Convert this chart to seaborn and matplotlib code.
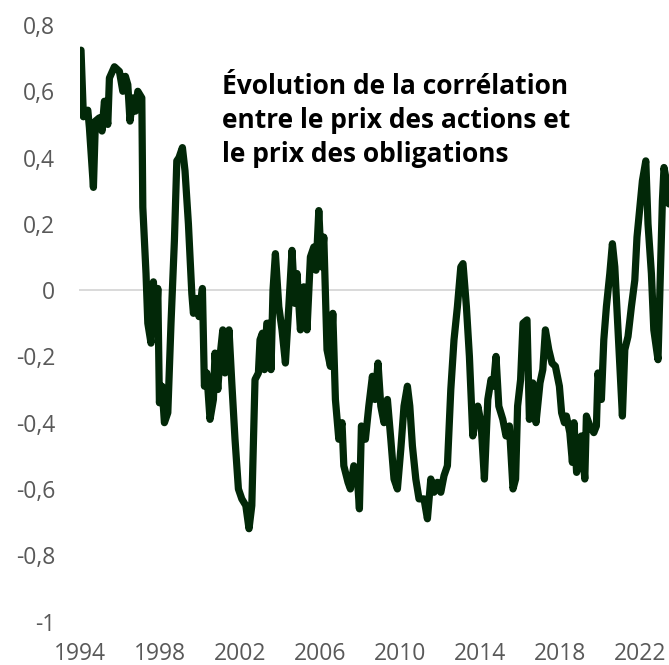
import matplotlib
matplotlib.use("Agg")
import matplotlib.pyplot as plt
from matplotlib.ticker import FuncFormatter
import seaborn as sns

# valeurs (annee decimale, correlation)
annees = [
    1994.05, 1994.17, 1994.39, 1994.47, 1994.67, 1994.77, 1994.97, 1995.10,
    1995.22, 1995.39, 1995.47, 1995.72, 1995.97, 1996.14, 1996.27, 1996.39,
    1996.50, 1996.64, 1996.77, 1996.89, 1997.09, 1997.14, 1997.30, 1997.39,
    1997.55, 1997.67, 1997.80, 1997.89, 1997.97, 1998.10, 1998.22, 1998.39,
    1998.55, 1998.72, 1998.84, 1998.95, 1999.12, 1999.25, 1999.42, 1999.59,
    1999.67, 1999.84, 1999.95, 2000.12, 2000.22, 2000.34, 2000.50, 2000.67,
    2000.75, 2000.89, 2001.00, 2001.14, 2001.25, 2001.34, 2001.45, 2001.59,
    2001.75, 2001.92, 2002.09, 2002.29, 2002.45, 2002.59, 2002.75, 2002.92,
    2003.00, 2003.12, 2003.22, 2003.34, 2003.45, 2003.55, 2003.65, 2003.77,
    2003.94, 2004.10, 2004.27, 2004.44, 2004.60, 2004.74, 2004.85, 2005.02,
    2005.19, 2005.35, 2005.52, 2005.69, 2005.80, 2005.94, 2006.07, 2006.19,
    2006.35, 2006.52, 2006.64, 2006.77, 2006.94, 2007.10, 2007.19, 2007.40,
    2007.52, 2007.69, 2007.85, 2007.97, 2008.07, 2008.27, 2008.44, 2008.62,
    2008.75, 2008.90, 2009.04, 2009.20, 2009.37, 2009.54, 2009.70, 2009.87,
    2010.04, 2010.20, 2010.37, 2010.49, 2010.62, 2010.79, 2010.95, 2011.20,
    2011.37, 2011.54, 2011.70, 2011.87, 2012.04, 2012.20, 2012.37, 2012.54,
    2012.70, 2012.87, 2013.04, 2013.15, 2013.32, 2013.47, 2013.64, 2013.89,
    2014.05, 2014.22, 2014.39, 2014.55, 2014.67, 2014.80, 2014.94, 2015.14,
    2015.30, 2015.47, 2015.65, 2015.78, 2015.88, 2016.03, 2016.15, 2016.35,
    2016.47, 2016.64, 2016.80, 2017.00, 2017.14, 2017.27, 2017.44, 2017.60,
    2017.77, 2017.97, 2018.08, 2018.22, 2018.32, 2018.49, 2018.62, 2018.70,
    2018.83, 2018.99, 2019.07, 2019.24, 2019.32, 2019.49, 2019.69, 2019.82,
    2019.90, 2020.07, 2020.19, 2020.32, 2020.49, 2020.62, 2020.74, 2020.90,
    2021.12, 2021.24, 2021.40, 2021.57, 2021.74, 2021.85, 2021.99, 2022.12,
    2022.29, 2022.40, 2022.57, 2022.69, 2022.90, 2023.02, 2023.12, 2023.20,
    2023.32, 2023.45,
]
correlation = [
    0.724, 0.523, 0.543, 0.49, 0.31, 0.51, 0.52, 0.48,
    0.57, 0.50, 0.64, 0.674, 0.66, 0.60, 0.645, 0.62,
    0.51, 0.58, 0.54, 0.60, 0.58, 0.25, 0.05, -0.10,
    -0.16, 0.025, -0.12, 0.005, -0.34, -0.29, -0.40, -0.37,
    -0.10, 0.15, 0.39, 0.40, 0.43, 0.36, 0.20, -0.01,
    -0.07, -0.025, -0.08, 0.005, -0.29, -0.25, -0.39, -0.33,
    -0.19, -0.30, -0.20, -0.12, -0.25, -0.21, -0.12, -0.28,
    -0.45, -0.60, -0.63, -0.65, -0.72, -0.65, -0.27, -0.25,
    -0.15, -0.13, -0.24, -0.10, -0.10, -0.24, 0.00, 0.11,
    -0.05, -0.12, -0.22, -0.05, 0.12, -0.04, 0.05, -0.12,
    0.01, -0.12, 0.10, 0.13, 0.06, 0.24, 0.07, 0.16,
    -0.18, -0.23, -0.07, -0.33, -0.45, -0.40, -0.53, -0.58,
    -0.60, -0.53, -0.55, -0.66, -0.41, -0.45, -0.35, -0.26,
    -0.33, -0.22, -0.35, -0.40, -0.33, -0.45, -0.57, -0.60,
    -0.48, -0.35, -0.29, -0.35, -0.47, -0.57, -0.63, -0.63,
    -0.69, -0.57, -0.61, -0.58, -0.61, -0.56, -0.53, -0.30,
    -0.15, -0.05, 0.07, 0.08, -0.05, -0.20, -0.44, -0.35,
    -0.40, -0.57, -0.33, -0.27, -0.29, -0.20, -0.35, -0.39,
    -0.44, -0.41, -0.60, -0.57, -0.35, -0.27, -0.10, -0.09,
    -0.39, -0.28, -0.40, -0.28, -0.24, -0.12, -0.18, -0.22,
    -0.23, -0.29, -0.37, -0.40, -0.38, -0.43, -0.52, -0.40,
    -0.55, -0.51, -0.44, -0.57, -0.38, -0.41, -0.43, -0.41,
    -0.25, -0.33, -0.15, -0.05, 0.05, 0.14, 0.07, -0.12,
    -0.38, -0.18, -0.14, -0.05, 0.03, 0.16, 0.25, 0.33,
    0.39, 0.20, 0.05, -0.12, -0.21, 0.05, 0.27, 0.37,
    0.33, 0.26,
]
annees_ticks = [1994, 1998, 2002, 2006, 2010, 2014, 2018, 2022]
y_ticks = [-1, -0.8, -0.6, -0.4, -0.2, 0, 0.2, 0.4, 0.6, 0.8]
titre = "Évolution de la corrélation\nentre le prix des actions et\nle prix des obligations"

sns.set_theme(style="white")
plt.rcParams["font.family"] = ["Open Sans", "DejaVu Sans"]

fig = plt.figure(figsize=(6.69, 6.65), dpi=100)
ax = fig.add_axes([0.1196, 0.0654, 0.8804, 0.897])

sns.lineplot(x=annees, y=correlation, ax=ax, color="#022808", linewidth=5.2)

ax.set_xlim(1994, 2023.45)
ax.set_ylim(-1, 0.8)
ax.set_xticks(annees_ticks)
ax.set_yticks(y_ticks)
ax.yaxis.set_major_formatter(
    FuncFormatter(lambda v, _: f"{round(v, 1):g}".replace(".", ",")))

# axe des x porte par la ligne du zero
for side in ["left", "right", "top"]:
    ax.spines[side].set_visible(False)
ax.spines["bottom"].set_position(("data", 0))
ax.spines["bottom"].set_color("#d9d9d9")
ax.spines["bottom"].set_linewidth(1.4)
ax.spines["bottom"].set_zorder(0)
ax.tick_params(axis="x", direction="out", length=4.5, width=1.4,
               color="#d9d9d9", labelsize=16.5, labelcolor="#595959", pad=249)
ax.tick_params(axis="y", length=0, labelsize=16.5, labelcolor="#595959", pad=18)

# titre dans la zone du graphique (ligne de base de la derniere ligne)
ax.text(1994 + 0.241 * 29.45, 0.386, titre, fontsize=19, fontweight="bold",
        color="black", va="baseline", ha="left", linespacing=1.33)

fig.savefig("out.png", dpi=100)
